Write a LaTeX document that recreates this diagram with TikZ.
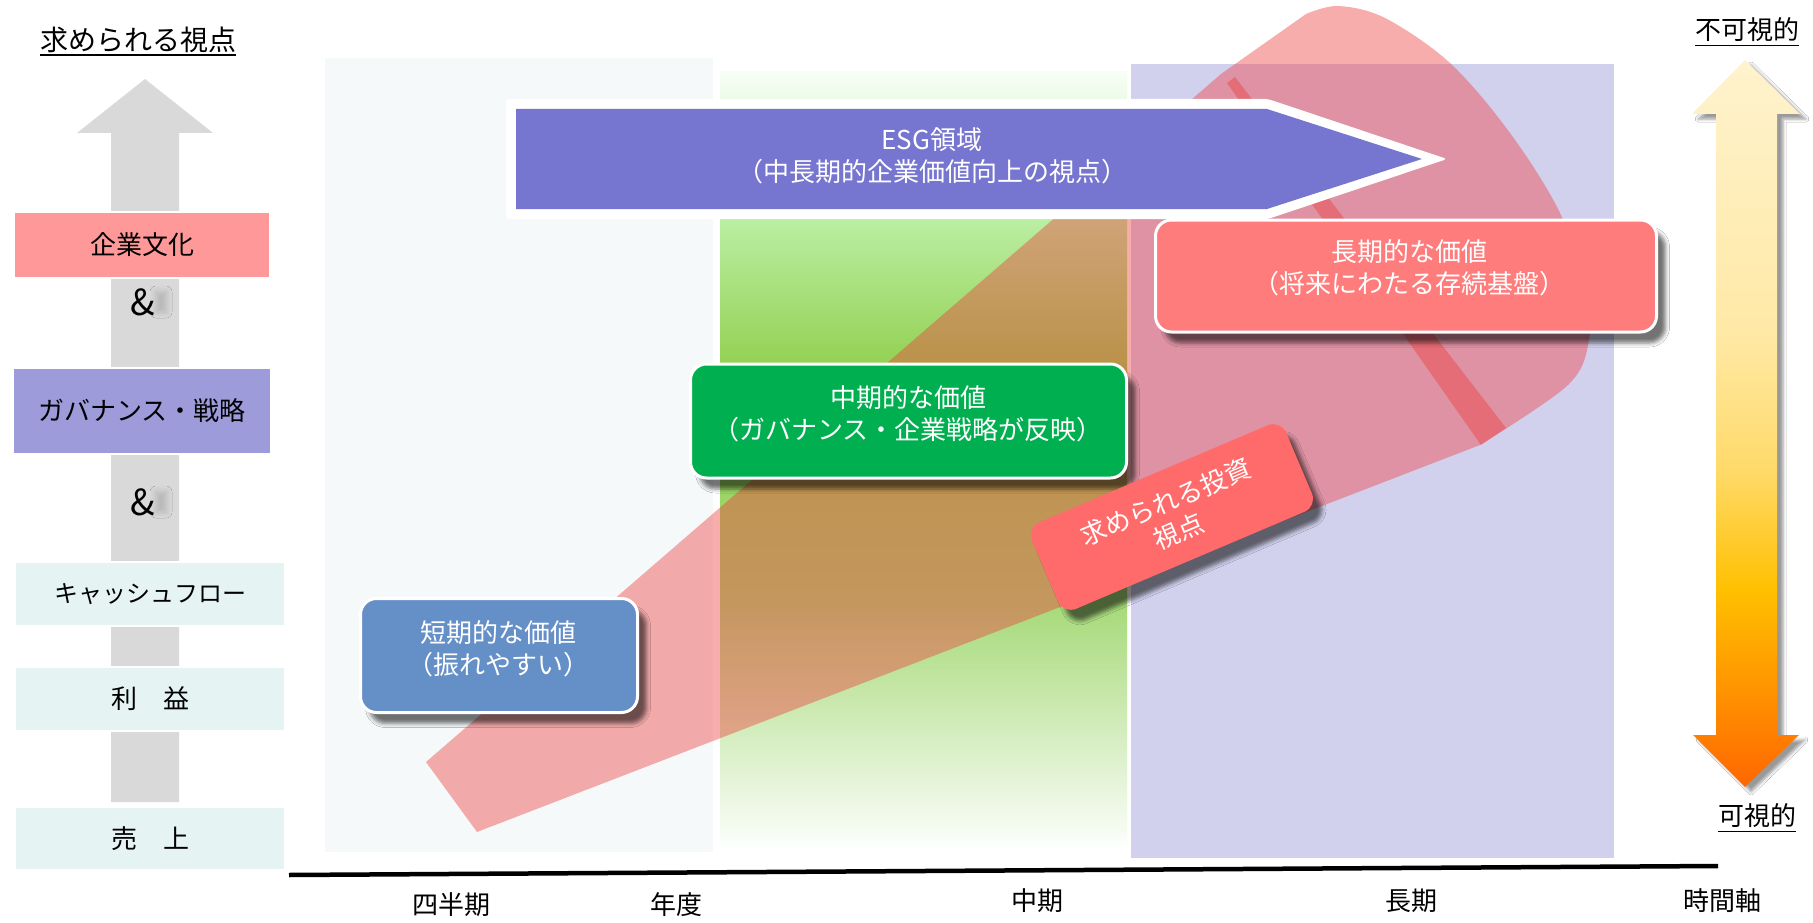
\documentclass[tikz,border=0pt]{standalone}
\usepackage{fontspec}
\setmainfont{Noto Sans CJK JP}
\usetikzlibrary{shadows,shadows.blur}

\definecolor{lightbg}{RGB}{245,249,250}
\definecolor{lavbg}{RGB}{209,209,238}
\definecolor{pinkband}{RGB}{240,60,60}
\definecolor{esgpurple}{RGB}{118,117,207}
\definecolor{shortblue}{RGB}{101,143,199}
\definecolor{midgreen}{RGB}{0,176,80}
\definecolor{longred}{RGB}{255,124,124}
\definecolor{invred}{RGB}{255,107,107}
\definecolor{culturered}{RGB}{255,153,153}
\definecolor{govpurple}{RGB}{158,155,219}
\definecolor{tealbox}{RGB}{230,243,243}
\definecolor{arrowgray}{RGB}{217,217,217}
\definecolor{gT}{RGB}{248,254,246}
\definecolor{gL}{RGB}{186,238,162}
\definecolor{gA}{RGB}{146,208,80}
\definecolor{gB}{RGB}{165,217,119}
\definecolor{gW}{RGB}{252,254,251}
\definecolor{aA}{RGB}{255,243,206}
\definecolor{aB}{RGB}{255,233,166}
\definecolor{aC}{RGB}{255,218,106}
\definecolor{aD}{RGB}{255,192,0}
\definecolor{aE}{RGB}{255,143,0}
\definecolor{aF}{RGB}{255,101,0}

\tikzset{
  jp/.style={font=\fontsize{26}{32}\selectfont},
  boxtext/.style={jp, text=white, align=center, inner sep=0pt},
  boxshadow/.style={blur shadow={shadow xshift=9pt, shadow yshift=-11pt, shadow blur radius=4pt, shadow opacity=55}},
  valuebox/.style={rectangle, rounded corners=16pt, draw=white, line width=3pt, inner sep=0pt, boxshadow},
  leftbox/.style={rectangle, draw=white, line width=2pt, inner sep=0pt, jp, text=black},
  axislabel/.style={jp, text=black, inner sep=0pt},
  ampersand/.style={font=\fontsize{36}{40}\selectfont, inner sep=0pt, text=black},
  bandfill/.style={fill=pinkband, fill opacity=0.42},
  ampshade/.style={blur shadow={shadow xshift=0pt, shadow yshift=0pt, shadow blur radius=6pt, shadow opacity=16}},
}

\begin{document}
\begin{tikzpicture}[x=1pt,y=-1pt]
\useasboundingbox (0,0) rectangle (1813,923);
\fill[white] (0,0) rectangle (1813,923);

% ---- background zones
\fill[lightbg] (325,58) rectangle (713,852);
\shade[top color=gT, bottom color=gL] (720,72) rectangle (1127,220.5);
\shade[top color=gL, bottom color=gA] (720,220) rectangle (1127,370.5);
\shade[top color=gA, bottom color=gB] (720,370) rectangle (1127,600.5);
\shade[top color=gB, bottom color=gW] (720,600) rectangle (1127,846);
\fill[lavbg] (1131,64) rectangle (1614,858);

% ---- left grey arrow
\fill[arrowgray] (145,79) -- (213,133) -- (179,133) -- (179,802) -- (111,802) -- (111,133) -- (77,133) -- cycle;

% ---- investment band
\fill[bandfill] (426,762) -- (477,832) -- plot[smooth, tension=0.55] coordinates {(1480,445) (1568,385) (1589,340) (1586,292) (1560,213) (1510,133) (1450,63) (1385,18) (1338,6) (1306,14)} -- (1221,74) -- cycle;
\fill[bandfill] (1227,83) -- (1235,77) -- (1506,428) -- (1481,445) -- cycle;

% ---- ESG arrow
\fill[white, rounded corners=3pt] (506,99) -- (1268,99) -- (1447,159) -- (1268,219) -- (506,219) -- cycle;
\fill[esgpurple] (516,109) -- (1267,109) -- (1422,159) -- (1267,209) -- (516,209) -- cycle;
\node[boxtext] (esgtext) at (932,155.5) {ESG領域\\（中長期的企業価値向上の視点）};

% ---- value boxes
\node[valuebox, fill=shortblue, minimum width=277pt, minimum height=114pt] (shortbox) at (499,655.5) {};
\node[boxtext] (shorttext) at (498,649) {短期的な価値\\（振れやすい）};

\node[valuebox, fill=midgreen, minimum width=436pt, minimum height=114pt] (midbox) at (908.5,421) {};
\node[boxtext] (midtext) at (908,414) {中期的な価値\\（ガバナンス・企業戦略が反映）};

\node[valuebox, fill=longred, minimum width=501pt, minimum height=112pt] (longbox) at (1406,276) {};
\node[boxtext] (longtext) at (1409,268) {長期的な価値\\（将来にわたる存続基盤）};

\node[rectangle, rounded corners=14pt, fill=invred, boxshadow, rotate=23,
      minimum width=276pt, minimum height=94pt, boxtext] (invbox) at (1172,517) {求められる投資\\視点};

% ---- left column
\node[font=\fontsize{28}{30}\selectfont, inner sep=0pt] (title) at (138,40) {求められる視点};
\draw[line width=1.3pt] ([yshift=-2pt]title.south west) -- ([yshift=-2pt]title.south east);

\node[leftbox, fill=culturered, minimum width=256pt, minimum height=66pt] (culture) at (142,245) {企業文化};
\path[ampshade] (156,292) rectangle (166,312);
\node[ampersand] (amp1) at (143,302) {\&};
\node[leftbox, fill=govpurple, minimum width=258pt, minimum height=86pt] (gov) at (142,411) {ガバナンス・戦略};
\path[ampshade] (156,492) rectangle (166,512);
\node[ampersand] (amp2) at (143,502) {\&};
\node[leftbox, fill=tealbox, minimum width=270pt, minimum height=64pt, font=\fontsize{24}{28}\selectfont] (cash) at (150,594) {キャッシュフロー};
\node[leftbox, fill=tealbox, minimum width=270pt, minimum height=64pt] (profit) at (150,699) {利　益};
\node[leftbox, fill=tealbox, minimum width=270pt, minimum height=63pt] (sales) at (150,838.5) {売　上};

% ---- time axis
\coordinate (axL) at (289,875);
\coordinate (axR) at (1718,866);
\draw[line width=4.5pt] (axL) -- (axR);
\node[axislabel] (q) at (451,905) {四半期};
\node[axislabel] (fy) at (676,905) {年度};
\node[axislabel] (mid) at (1037,901) {中期};
\node[axislabel] (long) at (1411,901) {長期};
\node[axislabel] (time) at (1722,901) {時間軸};

% ---- right visibility arrow
\path[blur shadow={shadow xshift=6pt, shadow yshift=-5pt, shadow blur radius=3pt, shadow opacity=40}]
  (1745,60) -- (1800,114) -- (1777,114) -- (1777,735) -- (1799,735) -- (1745,787) -- (1693,735) -- (1716,735) -- (1716,114) -- (1692,114) -- cycle;
\begin{scope}
\clip (1745,60) -- (1800,114) -- (1777,114) -- (1777,735) -- (1799,735) -- (1745,787) -- (1693,735) -- (1716,735) -- (1716,114) -- (1692,114) -- cycle;
\shade[top color=aA, bottom color=aB] (1688,58) rectangle (1804,330.5);
\shade[top color=aB, bottom color=aC] (1688,330) rectangle (1804,470.5);
\shade[top color=aC, bottom color=aD] (1688,470) rectangle (1804,590.5);
\shade[top color=aD, bottom color=aE] (1688,590) rectangle (1804,700.5);
\shade[top color=aE, bottom color=aF] (1688,700) rectangle (1804,790);
\end{scope}
\node[axislabel] (invis) at (1747,30) {不可視的};
\draw[line width=1.3pt] ([yshift=-3pt]invis.south west) -- ([yshift=-3pt]invis.south east);
\node[axislabel] (vis) at (1757,816) {可視的};
\draw[line width=1.3pt] ([yshift=-3pt]vis.south west) -- ([yshift=-3pt]vis.south east);
\end{tikzpicture}
\end{document}
